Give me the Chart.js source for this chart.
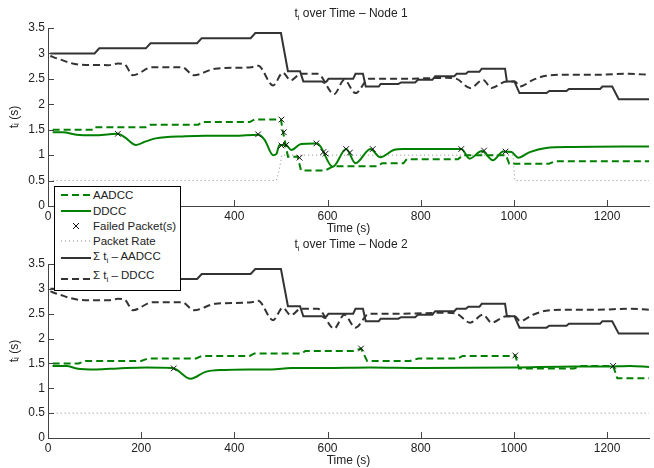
<!DOCTYPE html>
<html lang="en">
<head>
<meta charset="UTF-8">
<title>t_i over Time</title>
<script src="https://cdn.jsdelivr.net/npm/chart.js"></script>
<style>
    body { margin: 0; background: #fff; font-family: "Liberation Sans", Arial, sans-serif; }
    #wrap { position: relative; width: 654px; height: 468px; }
    #wrap canvas { position: absolute; left: 0; top: 0; }
    .ttl { position: absolute; left: 48px; width: 606px; text-align: center; font-size: 12px; color: #222; line-height: 14px; }
    .ttl sub { font-size: 8px; vertical-align: -3px; }
    #legend { position: absolute; left: 54px; top: 186px; width: 125px; height: 103px; background: #fff; border: 1px solid #000; }
    #legend svg { position: absolute; left: 0; top: 0; }
    .item { position: absolute; left: 38px; font-size: 11.5px; color: #222; line-height: 14px; white-space: nowrap; }
    .item sub { font-size: 8px; vertical-align: -3px; }
</style>
</head>
<body>
<div id="wrap">
    <canvas id="node1" width="654" height="468"></canvas>
    <canvas id="node2" width="654" height="468"></canvas>
    <div class="ttl" style="top:6px">t<sub>i</sub> over Time – Node 1</div>
    <div class="ttl" style="top:237px">t<sub>i</sub> over Time – Node 2</div>
    <div id="legend">
        <svg width="125" height="103">
            <line x1="6" y1="8" x2="36" y2="8" stroke="#008000" stroke-width="2" stroke-dasharray="7,4"/>
            <line x1="6" y1="24" x2="36" y2="24" stroke="#008000" stroke-width="2"/>
            <path d="M18 36 l6 6 M24 36 l-6 6" stroke="#111" stroke-width="1"/>
            <line x1="6" y1="54" x2="36" y2="54" stroke="#888" stroke-width="1" stroke-dasharray="1,3"/>
            <line x1="6" y1="71" x2="36" y2="71" stroke="#333" stroke-width="2"/>
            <line x1="6" y1="92" x2="36" y2="92" stroke="#333" stroke-width="2" stroke-dasharray="7,4"/>
        </svg>
        <div class="item" style="top:1px">AADCC</div>
        <div class="item" style="top:17px">DDCC</div>
        <div class="item" style="top:32px">Failed Packet(s)</div>
        <div class="item" style="top:47px">Packet Rate</div>
        <div class="item" style="top:62px">Σ t<sub>i</sub> – AADCC</div>
        <div class="item" style="top:81px">Σ t<sub>i</sub> – DDCC</div>
    </div>
</div>

<script>
// sums over all nodes (same in both panels)
const sumAadccT = [5, 100, 110, 210, 220, 320, 330, 435, 445, 500, 515, 541, 548, 588, 593, 598, 602, 655, 660, 676, 682, 710, 714, 752, 758, 788, 794, 825, 831, 872, 877, 897, 902, 926, 931, 981, 985, 1001, 1012, 1070, 1076, 1113, 1118, 1185, 1190, 1211, 1225, 1290];
const sumAadccV = [3.0, 3.0, 3.1, 3.1, 3.2, 3.2, 3.3, 3.3, 3.4, 3.4, 2.65, 2.65, 2.45, 2.45, 2.42, 2.45, 2.5, 2.5, 2.6, 2.6, 2.35, 2.35, 2.4, 2.4, 2.43, 2.43, 2.48, 2.48, 2.55, 2.55, 2.6, 2.6, 2.64, 2.64, 2.7, 2.7, 2.45, 2.45, 2.22, 2.22, 2.26, 2.26, 2.3, 2.3, 2.35, 2.35, 2.1, 2.1];
const sumDdccT = [5, 20, 68, 130, 150, 165, 182, 224, 288, 313, 359, 437, 451, 483, 504, 521, 543, 579, 614, 636, 660, 689, 760, 855, 877, 906, 934, 952, 984, 1002, 1013, 1041, 1069, 1112, 1180, 1247, 1290];
const sumDdccV = [2.95, 2.9, 2.78, 2.77, 2.8, 2.78, 2.57, 2.73, 2.73, 2.57, 2.7, 2.73, 2.76, 2.37, 2.62, 2.47, 2.6, 2.6, 2.2, 2.48, 2.22, 2.5, 2.5, 2.52, 2.5, 2.32, 2.48, 2.32, 2.45, 2.45, 2.35, 2.48, 2.56, 2.58, 2.58, 2.6, 2.58];

// node 1
const aadcc1T = [10, 96, 100, 210, 220, 323, 330, 433, 443, 500, 504, 508, 515, 536, 543, 596, 612, 706, 717, 763, 770, 880, 891, 983, 990, 1075, 1089, 1290];
const aadcc1V = [1.5, 1.5, 1.55, 1.55, 1.6, 1.6, 1.65, 1.65, 1.7, 1.7, 1.47, 1.3, 0.97, 0.97, 0.7, 0.7, 0.78, 0.78, 0.84, 0.84, 0.92, 0.92, 1.0, 1.0, 0.83, 0.83, 0.88, 0.88];
const ddcc1T = [10, 32, 61, 100, 132, 150, 165, 189, 210, 231, 295, 338, 400, 451, 465, 483, 490, 497, 511, 522, 543, 572, 578, 611, 640, 660, 692, 713, 742, 763, 855, 887, 905, 931, 955, 977, 995, 1009, 1034, 1069, 1126, 1290];
const ddcc1V = [1.45, 1.45, 1.4, 1.39, 1.41, 1.42, 1.35, 1.2, 1.27, 1.33, 1.37, 1.38, 1.38, 1.4, 1.3, 1.0, 1.02, 1.2, 1.2, 1.1, 1.22, 1.23, 1.23, 0.77, 1.12, 0.84, 1.12, 0.96, 1.1, 1.12, 1.12, 1.12, 0.93, 1.08, 0.9, 1.07, 1.06, 0.95, 1.06, 1.14, 1.16, 1.17];
const failed1T = [150, 451, 501, 506, 501, 511, 540, 576, 591, 596, 640, 648, 697, 887, 936, 982];
const failed1V = [1.42, 1.41, 1.7, 1.45, 1.19, 1.2, 0.95, 1.23, 1.06, 1.03, 1.12, 1.05, 1.12, 1.12, 1.09, 1.07];
const rate1T = [10, 490, 496, 502, 998, 1002, 1290];
const rate1V = [0.5, 0.5, 0.7, 1.0, 1.0, 0.5, 0.5];

// node 2
const aadcc2T = [10, 66, 80, 200, 215, 318, 330, 433, 443, 545, 552, 655, 672, 685, 777, 795, 880, 890, 998, 1003, 1011, 1130, 1142, 1213, 1222, 1290];
const aadcc2V = [1.5, 1.5, 1.55, 1.55, 1.6, 1.6, 1.65, 1.65, 1.7, 1.7, 1.75, 1.75, 1.8, 1.55, 1.55, 1.6, 1.6, 1.65, 1.65, 1.66, 1.4, 1.4, 1.45, 1.45, 1.2, 1.2];
const ddcc2T = [10, 40, 61, 104, 150, 210, 266, 275, 306, 338, 381, 430, 480, 522, 593, 692, 800, 1000, 1130, 1200, 1250, 1290];
const ddcc2V = [1.45, 1.45, 1.4, 1.38, 1.4, 1.42, 1.41, 1.38, 1.19, 1.33, 1.37, 1.38, 1.38, 1.41, 1.41, 1.42, 1.41, 1.42, 1.44, 1.44, 1.45, 1.43];
const failed2T = [270, 672, 1003, 1213];
const failed2V = [1.4, 1.8, 1.66, 1.45];
const rate2T = [10, 1290];
const rate2V = [0.5, 0.5];

const xTicks = [0, 200, 400, 600, 800, 1000, 1200];

const GREEN = '#008000';
const DARK = '#333333';
const AXIS = '#444444';

Chart.defaults.font.family = '"Liberation Sans", Arial, sans-serif';
Chart.defaults.font.size = 12;
Chart.defaults.color = '#222';

const pts = (xs, ys) => xs.map((x, i) => ({ x: x, y: ys[i] }));

// matlab style ticks pointing into the plot
const inwardTicks = {
    id: 'inwardTicks',
    afterDraw(chart) {
        const { ctx, chartArea: a, scales } = chart;
        ctx.save();
        ctx.strokeStyle = AXIS;
        ctx.lineWidth = 1;
        ctx.beginPath();
        scales.x.ticks.forEach(t => {
            const px = Math.round(scales.x.getPixelForValue(t.value)) + 0.5;
            ctx.moveTo(px, a.bottom);
            ctx.lineTo(px, a.bottom - 6);
        });
        scales.y.ticks.forEach(t => {
            const py = Math.round(scales.y.getPixelForValue(t.value)) + 0.5;
            ctx.moveTo(a.left, py);
            ctx.lineTo(a.left + 6, py);
        });
        ctx.stroke();
        ctx.restore();
    }
};

function makeChart(id, d, padTop, padBottom) {
    new Chart(document.getElementById(id), {
        type: 'line',
        data: {
            datasets: [
                { label: 'Failed Packet(s)', type: 'scatter', data: pts(d.failT, d.failV),
                  pointStyle: 'crossRot', pointRadius: 4, borderColor: '#111', borderWidth: 1, showLine: false },
                { label: 'AADCC', data: pts(d.aT, d.aV), borderColor: GREEN, borderWidth: 2, borderDash: [7, 4] },
                { label: 'DDCC', data: pts(d.dT, d.dV), borderColor: GREEN, borderWidth: 2, cubicInterpolationMode: 'monotone' },
                { label: 'Packet Rate', data: pts(d.rT, d.rV), borderColor: '#888', borderWidth: 1, borderDash: [1, 3] },
                { label: 'Σ tᵢ – AADCC', data: pts(sumAadccT, sumAadccV), borderColor: DARK, borderWidth: 2 },
                { label: 'Σ tᵢ – DDCC', data: pts(sumDdccT, sumDdccV), borderColor: DARK, borderWidth: 2, borderDash: [7, 4], cubicInterpolationMode: 'monotone' }
            ]
        },
        options: {
            responsive: false,
            animation: false,
            layout: { padding: { top: padTop, bottom: padBottom, left: 0, right: 0 } },
            elements: { point: { radius: 0 }, line: { tension: 0 } },
            plugins: { legend: { display: false }, tooltip: { enabled: false } },
            scales: {
                x: {
                    type: 'linear', min: 0, max: 1290,
                    ticks: { stepSize: 200, padding: 3, maxRotation: 0, callback: v => String(v) },
                    afterBuildTicks: s => { s.ticks = xTicks.map(v => ({ value: v })); },
                    afterFit: s => { s.height = 30; },
                    grid: { drawOnChartArea: false, drawTicks: false },
                    border: { color: AXIS },
                    title: { display: true, text: 'Time (s)', padding: { top: 0, bottom: 0 } }
                },
                y: {
                    min: 0, max: 3.5,
                    ticks: { stepSize: 0.5, padding: 3, callback: v => String(v) },
                    afterFit: s => { s.width = 48; },
                    grid: { drawOnChartArea: false, drawTicks: false },
                    border: { color: AXIS },
                    title: { display: true, text: 'tᵢ (s)', padding: { top: 7, bottom: 0 } }
                }
            }
        },
        plugins: [inwardTicks]
    });
}

makeChart('node1', { aT: aadcc1T, aV: aadcc1V, dT: ddcc1T, dV: ddcc1V, failT: failed1T, failV: failed1V, rT: rate1T, rV: rate1V }, 28, 232);
makeChart('node2', { aT: aadcc2T, aV: aadcc2V, dT: ddcc2T, dV: ddcc2V, failT: failed2T, failV: failed2V, rT: rate2T, rV: rate2V }, 264, 0);
</script>
</body>
</html>
